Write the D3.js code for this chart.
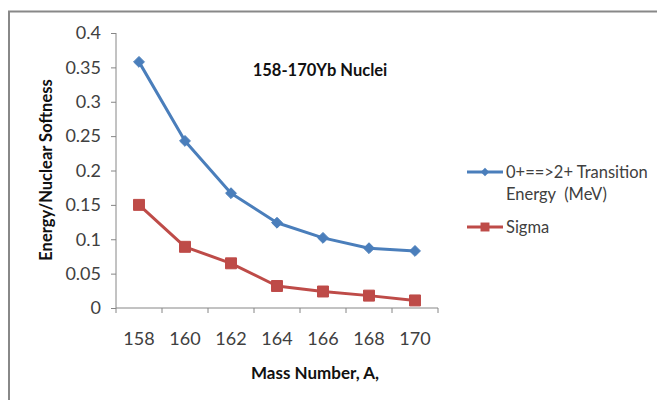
<!DOCTYPE html>
<html>
<head>
<meta charset="utf-8">
<script src="https://cdn.jsdelivr.net/npm/d3@7"></script>
<style>
  body { margin: 0; background: #fff; }
  svg text { font-family: Lato, "Open Sans", sans-serif; }
</style>
</head>
<body>
<svg id="chart" width="657" height="400"></svg>
<script>
// data
const massNumbers = [158, 160, 162, 164, 166, 168, 170];
const transitionEnergy = [0.358, 0.243, 0.167, 0.124, 0.102, 0.087, 0.083];
const sigma = [0.150, 0.089, 0.065, 0.032, 0.024, 0.018, 0.011];
const yTicks = [0, 0.05, 0.1, 0.15, 0.2, 0.25, 0.3, 0.35, 0.4];
const seriesNames = ["0+==>2+ Transition", "Energy  (MeV)"];
const sigmaName = "Sigma";

const svg = d3.select("#chart");

// outer frame (only top and left edges visible)
svg.append("path")
  .attr("d", "M9,400 V11.5 H657")
  .attr("fill", "none")
  .attr("stroke", "#888")
  .attr("stroke-width", 2);

let x = d3.scaleBand().domain(massNumbers).range([116, 438]);
let y = d3.scaleLinear().domain([0, 0.4]).range([308, 33]);

// y axis
let yAxis = svg.append("g").attr("transform", "translate(116,0)")
  .call(d3.axisLeft(y).tickValues(yTicks).tickSize(5).tickPadding(10)
    .tickFormat(d => d3.format("")(+d.toFixed(2))));
yAxis.select(".domain").attr("stroke", "#868686").attr("d", `M0,${y(0.4)}V${y(0)}`);
yAxis.selectAll(".tick line").attr("stroke", "#868686");
yAxis.selectAll("text").attr("font-size", 18).attr("fill", "#404040")
  .attr("font-family", "Lato, sans-serif");

// x axis: ticks between categories
let xg = svg.append("g").attr("transform", "translate(0,308)");
xg.append("line").attr("x1", 116).attr("x2", 438).attr("stroke", "#868686");
let edges = massNumbers.map(d => x(d)).concat([x.range()[1]]);
xg.selectAll(".xt").data(edges).join("line")
  .attr("x1", d => d).attr("x2", d => d).attr("y1", 0).attr("y2", 5)
  .attr("stroke", "#868686");
xg.selectAll(".xl").data(massNumbers).join("text")
  .attr("x", d => x(d) + x.bandwidth() / 2)
  .attr("y", 37)
  .attr("text-anchor", "middle")
  .attr("font-size", 18)
  .attr("fill", "#404040")
  .text(d => d);

let cx = d => x(d) + x.bandwidth() / 2;

function drawSeries(values, color) {
  let line = d3.line().x((d, i) => cx(massNumbers[i])).y(d => y(d));
  svg.append("path")
    .datum(values)
    .attr("d", line)
    .attr("fill", "none")
    .attr("stroke", color)
    .attr("stroke-width", 3)
    .attr("stroke-linejoin", "round");
}

drawSeries(transitionEnergy, "#4a7ebb");
drawSeries(sigma, "#be4b48");

svg.selectAll(".diamond").data(transitionEnergy).join("path")
  .attr("d", d3.symbol(d3.symbolDiamond2, 75))
  .attr("transform", (d, i) => `translate(${cx(massNumbers[i])},${y(d)})`)
  .attr("fill", "#4a7ebb")
  .attr("stroke", "#4a7ebb");

svg.selectAll(".square").data(sigma).join("path")
  .attr("d", d3.symbol(d3.symbolSquare, 120))
  .attr("transform", (d, i) => `translate(${cx(massNumbers[i])},${y(d)})`)
  .attr("fill", "#be4b48")
  .attr("stroke", "#be4b48");

// titles
svg.append("text").attr("x", 320).attr("y", 76)
  .attr("text-anchor", "middle").attr("font-weight", "bold")
  .attr("font-size", 16.5).attr("fill", "#111")
  .text("158-170Yb Nuclei");

svg.append("text").attr("x", 315).attr("y", 379)
  .attr("text-anchor", "middle").attr("font-weight", "bold")
  .attr("font-size", 17).attr("fill", "#111")
  .text("Mass Number, A,");

svg.append("text")
  .attr("transform", "translate(52,170) rotate(-90)")
  .attr("text-anchor", "middle").attr("font-weight", "bold")
  .attr("font-size", 16.5).attr("fill", "#111")
  .text("Energy/Nuclear Softness");

// legend
let lg = svg.append("g");
lg.append("line").attr("x1", 467).attr("x2", 503).attr("y1", 172).attr("y2", 172)
  .attr("stroke", "#4a7ebb").attr("stroke-width", 3);
lg.append("path").attr("d", d3.symbol(d3.symbolDiamond2, 45))
  .attr("transform", "translate(485,172)").attr("fill", "#4a7ebb");
lg.selectAll(".lt").data(seriesNames).join("text")
  .attr("x", 506).attr("y", (d, i) => 178 + i * 22)
  .attr("font-size", 16.5).attr("fill", "#404040")
  .attr("xml:space", "preserve").style("white-space", "pre")
  .text(d => d);

lg.append("line").attr("x1", 467).attr("x2", 503).attr("y1", 227).attr("y2", 227)
  .attr("stroke", "#be4b48").attr("stroke-width", 3);
lg.append("path").attr("d", d3.symbol(d3.symbolSquare, 80))
  .attr("transform", "translate(485,227)").attr("fill", "#be4b48");
lg.append("text").attr("x", 506).attr("y", 233)
  .attr("font-size", 16.5).attr("fill", "#404040").text(sigmaName);
</script>
</body>
</html>
